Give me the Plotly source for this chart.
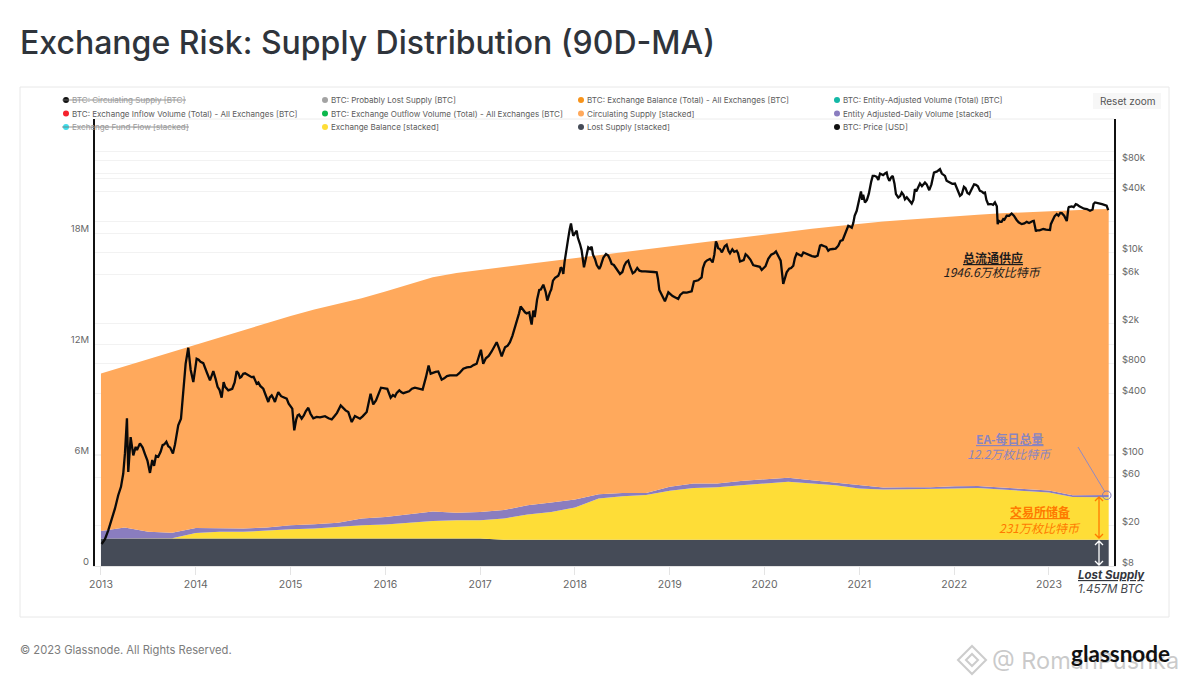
import numpy as np
import plotly.graph_objects as go

W = 1187
H = 685

# BTC price, decimal year / USD
price_year = [
    2013.007, 2013.042, 2013.077, 2013.113, 2013.148, 2013.182, 2013.211, 2013.235, 2013.253, 2013.274,
    2013.288, 2013.313, 2013.341, 2013.366, 2013.411, 2013.464, 2013.517, 2013.541, 2013.604, 2013.668,
    2013.710, 2013.759, 2013.781, 2013.815, 2013.844, 2013.868, 2013.893, 2013.921, 2013.946, 2013.974,
    2014.009, 2014.079, 2014.150, 2014.185, 2014.273, 2014.294, 2014.343, 2014.385, 2014.431, 2014.466,
    2014.501, 2014.589, 2014.642, 2014.712, 2014.765, 2014.801, 2014.835, 2014.870, 2014.959, 2015.018,
    2015.039, 2015.075, 2015.117, 2015.187, 2015.275, 2015.363, 2015.434, 2015.529, 2015.609, 2015.645,
    2015.679, 2015.732, 2015.803, 2015.844, 2015.872, 2015.901, 2015.954, 2016.020, 2016.056, 2016.101,
    2016.147, 2016.189, 2016.312, 2016.393, 2016.428, 2016.456, 2016.478, 2016.558, 2016.594, 2016.681,
    2016.752, 2016.822, 2016.963, 2017.008, 2017.032, 2017.121, 2017.174, 2017.227, 2017.262, 2017.314,
    2017.367, 2017.427, 2017.473, 2017.518, 2017.543, 2017.560, 2017.589, 2017.623, 2017.666, 2017.708,
    2017.736, 2017.768, 2017.824, 2017.849, 2017.877, 2017.912, 2017.958, 2017.982, 2018.018, 2018.053,
    2018.095, 2018.140, 2018.176, 2018.211, 2018.256, 2018.327, 2018.387, 2018.475, 2018.562, 2018.609,
    2018.657, 2018.704, 2018.862, 2018.890, 2018.949, 2018.985, 2019.089, 2019.142, 2019.231, 2019.255,
    2019.336, 2019.371, 2019.424, 2019.452, 2019.487, 2019.529, 2019.600, 2019.635, 2019.706, 2019.741,
    2019.818, 2019.899, 2019.970, 2020.039, 2020.120, 2020.170, 2020.197, 2020.233, 2020.303, 2020.339,
    2020.409, 2020.532, 2020.585, 2020.672, 2020.778, 2020.824, 2020.883, 2020.936, 2020.972, 2021.017,
    2021.059, 2021.112, 2021.141, 2021.183, 2021.218, 2021.288, 2021.316, 2021.352, 2021.386, 2021.411,
    2021.447, 2021.481, 2021.552, 2021.586, 2021.639, 2021.692, 2021.737, 2021.787, 2021.850, 2021.903,
    2021.955, 2022.008, 2022.061, 2022.103, 2022.159, 2022.230, 2022.272, 2022.325, 2022.359, 2022.430,
    2022.459, 2022.518, 2022.554, 2022.606, 2022.659, 2022.712, 2022.765, 2022.829, 2022.863, 2022.940,
    2023.011, 2023.039, 2023.082, 2023.135, 2023.188, 2023.205, 2023.283, 2023.346, 2023.433, 2023.486,
    2023.538, 2023.608, 2023.625,
]
price_usd = [
    13.2, 14.7, 18, 22.8, 29.6, 40, 48.4, 65.5, 104, 230,
    68, 150, 99, 120, 130, 102, 66.4, 89, 96, 127,
    122, 103, 127, 196, 228, 434, 794, 1143, 694, 524,
    890, 806, 545, 671, 367, 524, 434, 450, 671, 578,
    634, 586, 505, 450, 333, 387, 333, 417, 359, 286,
    175, 246, 228, 292, 237, 241, 224, 308, 265, 211,
    242, 228, 265, 402, 315, 345, 461, 450, 367, 378,
    434, 407, 461, 441, 586, 764, 634, 667, 553, 610,
    610, 710, 794, 1092, 794, 1050, 1297, 938, 1157, 1297,
    1824, 2918, 2560, 2560, 1937, 2663, 2830, 4259, 4800, 3340,
    4031, 5260, 5890, 7115, 6120, 10370, 19280, 14600, 16350, 12090,
    7115, 11200, 11370, 8620, 6860, 9630, 7680, 6120, 8290, 6210,
    7020, 6490, 6350, 4259, 3290, 4031, 3467, 4031, 4130, 5170,
    5665, 7960, 8620, 7960, 12820, 10790, 11900, 9770, 10370, 8120,
    9270, 7380, 6700, 8620, 10210, 8290, 4875, 6350, 7380, 9770,
    9980, 9060, 11640, 10370, 11640, 13240, 18320, 19460, 25730, 39880,
    31100, 45400, 56900, 55600, 60000, 61400, 50800, 56900, 37600, 34800,
    39000, 33500, 30350, 42100, 47800, 48900, 41100, 61400, 66300, 56900,
    48900, 47800, 36200, 44400, 37600, 46400, 40500, 39000, 29900, 31100,
    19000, 21300, 23000, 24200, 20900, 19000, 20000, 20400, 16100, 17000,
    16600, 20900, 23900, 24400, 20400, 27400, 29900, 27700, 25730, 31100,
    30350, 28900, 26100,
]

# smaller swings between the readings above
detail_year = [
    2013.38, 2013.44, 2013.49, 2013.56, 2013.58, 2013.63, 2013.65, 2013.69, 2013.73,
    2014.03, 2014.05, 2014.10, 2014.12, 2014.17, 2014.21, 2014.23, 2014.25, 2014.31, 2014.36, 2014.41, 2014.45,
    2014.48, 2014.52, 2014.55, 2014.61, 2014.66, 2014.68, 2014.73, 2014.78, 2014.82, 2014.85, 2014.90, 2014.93, 2014.98,
    2015.03, 2015.06, 2015.09, 2015.14, 2015.16, 2015.21, 2015.24, 2015.31, 2015.34, 2015.40, 2015.46, 2015.49,
    2015.56, 2015.58, 2015.63, 2015.70, 2015.76, 2015.78,
    2016.04, 2016.08, 2016.12, 2016.17, 2016.25, 2016.28, 2016.35, 2016.50, 2016.53, 2016.57, 2016.62, 2016.65,
    2016.72, 2016.78, 2016.86, 2016.90, 2016.93,
    2017.06, 2017.09, 2017.15, 2017.20, 2017.24, 2017.29, 2017.34, 2017.39, 2017.41, 2017.45, 2017.49, 2017.53,
    2017.575, 2017.60, 2017.64, 2017.69, 2017.72, 2017.75, 2017.79, 2017.84, 2017.865, 2017.89, 2017.93, 2017.945, 2017.97,
    2018.03, 2018.07, 2018.11, 2018.125, 2018.16, 2018.19, 2018.23, 2018.27, 2018.30, 2018.35, 2018.37, 2018.41,
    2018.44, 2018.50, 2018.52, 2018.54, 2018.58, 2018.63, 2018.68, 2018.74, 2018.78, 2018.83, 2018.875, 2018.92, 2018.97,
    2019.03, 2019.06, 2019.11, 2019.18, 2019.27, 2019.30, 2019.35, 2019.39, 2019.44, 2019.47, 2019.50, 2019.51,
    2019.55, 2019.58, 2019.62, 2019.66, 2019.68, 2019.72, 2019.78, 2019.80, 2019.85, 2019.88, 2019.93, 2019.95,
    2020.01, 2020.07, 2020.10, 2020.15, 2020.21, 2020.26, 2020.28, 2020.32, 2020.36, 2020.39, 2020.43, 2020.47,
    2020.50, 2020.56, 2020.60, 2020.63, 2020.65, 2020.69, 2020.72, 2020.75, 2020.80, 2020.85, 2020.90, 2020.92, 2020.95,
    2021.03, 2021.04, 2021.08, 2021.10, 2021.125, 2021.16, 2021.20, 2021.25, 2021.27, 2021.30, 2021.335, 2021.37,
    2021.40, 2021.43, 2021.465, 2021.50, 2021.53, 2021.57, 2021.60, 2021.66, 2021.71, 2021.73, 2021.76, 2021.82,
    2021.87, 2021.92, 2021.98,
    2022.03, 2022.05, 2022.08, 2022.12, 2022.14, 2022.19, 2022.21, 2022.25, 2022.29, 2022.31, 2022.34, 2022.39,
    2022.41, 2022.45, 2022.47, 2022.49, 2022.50, 2022.53, 2022.58, 2022.63, 2022.68, 2022.74, 2022.79, 2022.84,
    2022.87, 2022.90, 2022.97,
    2023.02, 2023.06, 2023.10, 2023.12, 2023.16, 2023.21, 2023.24, 2023.26, 2023.30, 2023.32, 2023.37, 2023.40,
    2023.46, 2023.47, 2023.51, 2023.56, 2023.58,
]
detail_usd = [
    112, 118, 88, 78, 98, 108, 125, 135, 118,
    870, 830, 700, 640, 600, 560, 470, 440, 470, 440, 520, 640,
    590, 640, 620, 590, 520, 480, 400, 370, 360, 370, 380, 370, 320,
    215, 225, 250, 245, 270, 255, 230, 235, 240, 230, 240, 260,
    285, 275, 235, 235, 240, 250,
    400, 390, 410, 415, 425, 450, 450, 650, 660, 620, 570, 600,
    610, 640, 730, 740, 770,
    900, 950, 1200, 1120, 1020, 1200, 1500, 2100, 2500, 2700, 2500, 2200,
    2300, 3400, 4300, 4100, 3700, 4300, 5600, 6400, 6900, 8000, 14000, 17000, 16500,
    14000, 10500, 8500, 9500, 10800, 9500, 7500, 7300, 8900, 9300, 8500, 7500,
    6900, 6400, 7400, 8000, 7300, 6400, 6600, 6500, 6500, 6400, 5500, 3800, 3700,
    3700, 3550, 3800, 4000, 5200, 5300, 7000, 8300, 8100, 9500, 12000, 11000,
    10000, 11500, 10300, 10700, 10100, 9800, 8400, 9600, 8500, 7500, 7300, 7200,
    7300, 9500, 9800, 9000, 5500, 6900, 7000, 8800, 9500, 9200, 9800, 9300,
    9200, 9300, 11800, 11500, 11300, 10700, 10800, 10900, 13000, 15500, 18000, 17500, 23000,
    33000, 37000, 33000, 38000, 50000, 57000, 52000, 58000, 60000, 55000, 55000, 48000,
    36000, 36000, 37000, 35000, 32500, 33000, 40000, 45000, 47000, 42000, 47000, 63000,
    60000, 51000, 47500,
    43000, 38000, 37500, 43000, 38500, 43000, 47000, 45000, 40000, 38500, 33000, 30000,
    29500, 28500, 20500, 20000, 20000, 21000, 23000, 23000, 19800, 19300, 19500, 20500,
    16500, 16500, 16800,
    19000, 22800, 23000, 24500, 23000, 28000, 28400, 28000, 29500, 28500, 27000, 26800,
    26500, 30000, 30500, 30000, 29300,
]

# stacked supply, million BTC
supply_year = [
    2013.0, 2013.25, 2013.5, 2013.75, 2014.0, 2014.25, 2014.5, 2014.75, 2015.0, 2015.25, 2015.5,
    2015.75, 2016.0, 2016.25, 2016.5, 2016.75, 2017.0, 2017.25, 2017.5, 2017.75, 2018.0, 2018.25,
    2018.5, 2018.75, 2019.0, 2019.25, 2019.5, 2019.75, 2020.0, 2020.25, 2020.5, 2020.75, 2021.0,
    2021.25, 2021.5, 2021.75, 2022.0, 2022.25, 2022.5, 2022.75, 2023.0, 2023.25, 2023.5, 2023.63,
]
circulating_total = [
    10.43, 10.82, 11.2, 11.58, 11.97, 12.4, 12.78, 13.17, 13.55, 13.9, 14.22,
    14.5, 14.87, 15.25, 15.64, 15.87, 16.05, 16.2, 16.36, 16.52, 16.68, 16.86,
    17.03, 17.17, 17.31, 17.49, 17.67, 17.82, 17.97, 18.12, 18.27, 18.41, 18.55,
    18.66, 18.76, 18.86, 18.95, 19.03, 19.11, 19.17, 19.22, 19.27, 19.32, 19.34,
]
lost_supply = [1.49] * 17 + [1.42] * 27
exchange_balance = [
    0, 0, 0, 0.02, 0.30, 0.36, 0.36, 0.45, 0.50, 0.54, 0.63,
    0.72, 0.76, 0.86, 0.95, 0.99, 0.99, 1.16, 1.37, 1.51, 1.75, 2.24,
    2.36, 2.42, 2.65, 2.81, 2.85, 2.96, 3.05, 3.14, 3.05, 2.96, 2.78,
    2.72, 2.74, 2.74, 2.78, 2.81, 2.72, 2.65, 2.56, 2.32, 2.31, 2.31,
]
entity_volume = [
    0.41, 0.60, 0.36, 0.29, 0.27, 0.18, 0.18, 0.15, 0.22, 0.23, 0.22,
    0.36, 0.41, 0.46, 0.51, 0.41, 0.45, 0.45, 0.50, 0.51, 0.43, 0.23,
    0.18, 0.12, 0.22, 0.24, 0.20, 0.23, 0.23, 0.22, 0.18, 0.15, 0.18,
    0.11, 0.11, 0.11, 0.12, 0.11, 0.11, 0.11, 0.11, 0.09, 0.11, 0.12,
]

legend_names = [
    "BTC: Circulating Supply [BTC]", "BTC: Probably Lost Supply [BTC]",
    "BTC: Exchange Balance (Total) - All Exchanges [BTC]", "BTC: Entity-Adjusted Volume (Total) [BTC]",
    "BTC: Exchange Inflow Volume (Total) - All Exchanges [BTC]", "BTC: Exchange Outflow Volume (Total) - All Exchanges [BTC]",
    "Circulating Supply [stacked]", "Entity Adjusted-Daily Volume [stacked]",
    "Exchange Fund Flow [stacked]", "Exchange Balance [stacked]",
    "Lost Supply [stacked]", "BTC: Price [USD]",
]
legend_colors = [
    "#111111", "#a3a3a3", "#f7931a", "#14b8a6",
    "#f5222d", "#0bb84c", "#ffa95c", "#8a7dbf",
    "#3ddcea", "#fedd37", "#454b57", "#111111",
]
struck_out = ["BTC: Circulating Supply [BTC]", "Exchange Fund Flow [stacked]"]

left_ticks = [0, 6, 12, 18, 21]
left_labels = ["0", "6M", "12M", "18M", ""]
right_ticks = [8, 20, 60, 100, 400, 800, 2000, 6000, 10000, 20000, 40000, 60000, 80000, 100000]
right_labels = ["$8", "$20", "$60", "$100", "$400", "$800", "$2k", "$6k", "$10k", "", "$40k", "", "$80k", ""]
year_ticks = list(range(2013, 2024))

FONT = "Inter, 'Noto Sans CJK SC', sans-serif"
CJK = "'Noto Sans CJK SC', Inter, sans-serif"


def px(x):
    return x / W


def py(y):
    return 1 - y / H


def pline(x0, y0, x1, y1, color, width=1):
    return dict(type="line", xref="paper", yref="paper", x0=px(x0), y0=py(y0), x1=px(x1), y1=py(y1),
                line=dict(color=color, width=width), layer="above")


def label(x, y, text, size, color, anchor="left", family=FONT, weight=None):
    font = dict(family=family, size=size, color=color)
    if weight:
        font["weight"] = weight
    return dict(xref="paper", yref="paper", x=px(x), y=py(y), text=text, showarrow=False,
                xanchor=anchor, yanchor="middle", align=anchor, font=font, borderpad=0)


def v_arrow(x, y0, y1, color, width=1.3):
    # vertical line with an open head at both ends
    h = 4
    d = (f"M {px(x)},{py(y0)} L {px(x)},{py(y1)} "
         f"M {px(x - h)},{py(y0 + h)} L {px(x)},{py(y0)} L {px(x + h)},{py(y0 + h)} "
         f"M {px(x - h)},{py(y1 - h)} L {px(x)},{py(y1)} L {px(x + h)},{py(y1 - h)}")
    return dict(type="path", xref="paper", yref="paper", path=d, line=dict(color=color, width=width), layer="above")


# both sets of price readings, in time order
all_year = np.array(price_year + detail_year)
all_usd = np.array(price_usd + detail_usd)
order = np.argsort(all_year)

total = np.array(circulating_total)
lost = np.array(lost_supply)
balance = np.array(exchange_balance)
entity = np.array(entity_volume)
circulating_rest = total - lost - balance - entity

fig = go.Figure()
stack = [
    ("Lost Supply", lost, "#454b57"),
    ("Exchange Balance", balance, "#fedd37"),
    ("Entity Adjusted-Daily Volume", entity, "#8a7dbf"),
    ("Circulating Supply", circulating_rest, "#ffa95c"),
]
for name, values, color in stack:
    fig.add_trace(go.Scatter(x=supply_year, y=values, name=name, mode="lines", stackgroup="supply",
                             line=dict(width=0, color=color), fillcolor=color))
fig.add_trace(go.Scatter(x=all_year[order], y=all_usd[order], name="BTC: Price", mode="lines", yaxis="y2",
                         line=dict(color="#0a0a0a", width=2.3)))

shapes = [
    dict(type="rect", xref="paper", yref="paper", x0=px(20), y0=py(87), x1=px(1169), y1=py(617),
         line=dict(color="#e8e8e8", width=1), layer="below"),
    dict(type="rect", xref="paper", yref="paper", x0=px(1093), y0=py(93), x1=px(1161), y1=py(109),
         line=dict(width=0), fillcolor="#f7f7f7", layer="below"),
    pline(95, 119, 1114, 119, "#ececec"),
    pline(1078, 447, 1105, 492, "#8f8ac4"),
    dict(type="circle", xref="paper", yref="paper", x0=px(1102.5), y0=py(491), x1=px(1111), y1=py(499.5),
         line=dict(color="#7f7ab8", width=1), layer="above"),
    v_arrow(1099, 497, 538, "#ff7a00"),
    v_arrow(1099, 541, 565, "#ffffff"),
]

annotations = [
    label(19, 43, "Exchange Risk: Supply Distribution (90D-MA)", 32, "#2f343b", weight=500),
    label(19, 650, "© 2023 Glassnode. All Rights Reserved.", 11.2, "#7c7c7c"),
    label(1127, 100.5, "Reset zoom", 10, "#555555", "center"),
    label(993, 257, "<b><u>总流通供应</u></b>", 12, "#1c1c1c", "center", CJK),
    label(993, 271, "<i>1946.6万枚比特币</i>", 12, "#1c1c1c", "center", CJK),
    label(1010, 439, "<b><u>EA-每日总量</u></b>", 12, "#8a85c0", "center", CJK),
    label(1010, 453, "<i>12.2万枚比特币</i>", 12, "#8a85c0", "center", CJK),
    label(1040, 512, "<b><u>交易所储备</u></b>", 12, "#ff7a00", "center", CJK),
    label(1040, 527, "<i>231万枚比特币</i>", 12, "#ff7a00", "center", CJK),
    label(1111, 575, "<b><i><u>Lost Supply</u></i></b>", 11.5, "#33363c", "center"),
    label(1111, 589, "<i>1.457M BTC</i>", 11.5, "#44474d", "center"),
    label(991, 660, "@ RomanPushka", 23.5, "rgba(150,150,150,0.5)"),
    label(1120, 653, "<b>glassnode</b>", 22.5, "#111111", "center", "Lato, sans-serif"),
]

# watermark diamond
wm = (f"M {px(958)},{py(660)} L {px(972)},{py(646)} L {px(986)},{py(660)} L {px(972)},{py(674)} Z "
      f"M {px(966)},{py(660)} L {px(972)},{py(654)} L {px(978)},{py(660)} L {px(972)},{py(666)} Z")
shapes.append(dict(type="path", xref="paper", yref="paper", path=wm,
                   line=dict(color="rgba(170,170,170,0.6)", width=2)))

# hand built legend, three rows of four
col_x = [66, 325, 581, 837]
row_y = [100, 113.5, 127]
for i, (name, color) in enumerate(zip(legend_names, legend_colors)):
    x = col_x[i % 4]
    y = row_y[i // 4]
    shapes.append(dict(type="circle", xref="paper", yref="paper", x0=px(x - 3), y0=py(y - 3), x1=px(x + 3), y1=py(y + 3),
                       line=dict(width=0), fillcolor=color, layer="above"))
    annotations.append(label(x + 5, y, name, 8.05, "#9a9a9a" if name in struck_out else "#5c5c5c"))
shapes.append(pline(62, 100, 186, 100, "#777777", 0.8))
shapes.append(pline(62, 127, 189, 127, "#777777", 0.8))

fig.update_layout(
    width=W,
    height=H,
    margin=dict(l=0, r=0, t=0, b=0, autoexpand=False),
    paper_bgcolor="white",
    plot_bgcolor="white",
    showlegend=False,
    hovermode=False,
    font=dict(family=FONT, size=10.5, color="#666666"),
    shapes=shapes,
    annotations=annotations,
    xaxis=dict(domain=[px(95), px(1114)], range=[2012.937, 2023.686], tickmode="array", tickvals=year_ticks,
               ticktext=[str(y) for y in year_ticks], showgrid=False, zeroline=False, showline=True,
               linecolor="#e4e4e4", ticks="outside", ticklen=8, tickcolor="#e4e4e4"),
    yaxis=dict(domain=[py(566), py(119)], range=[0, 24.216], tickmode="array", tickvals=left_ticks,
               ticktext=left_labels, ticklabelposition="outside top", ticklabelshift=2, ticklabelstandoff=2,
               tickfont=dict(size=9.5), gridcolor="#f2f2f2", zeroline=False, showline=True,
               linecolor="#111111", linewidth=2, ticks=""),
    yaxis2=dict(overlaying="y", side="right", type="log", range=[0.903, 5.317], tickmode="array",
                tickvals=right_ticks, ticktext=right_labels, ticklabelposition="outside top", ticklabelshift=3,
                ticklabelstandoff=4, tickfont=dict(size=9.5), gridcolor="#f2f2f2", zeroline=False, showline=True,
                linecolor="#111111", linewidth=2, ticks=""),
)

fig.write_html("out.html", config={"displayModeBar": False},
               post_script="document.body.style.margin='0';document.body.style.overflow='hidden';")
